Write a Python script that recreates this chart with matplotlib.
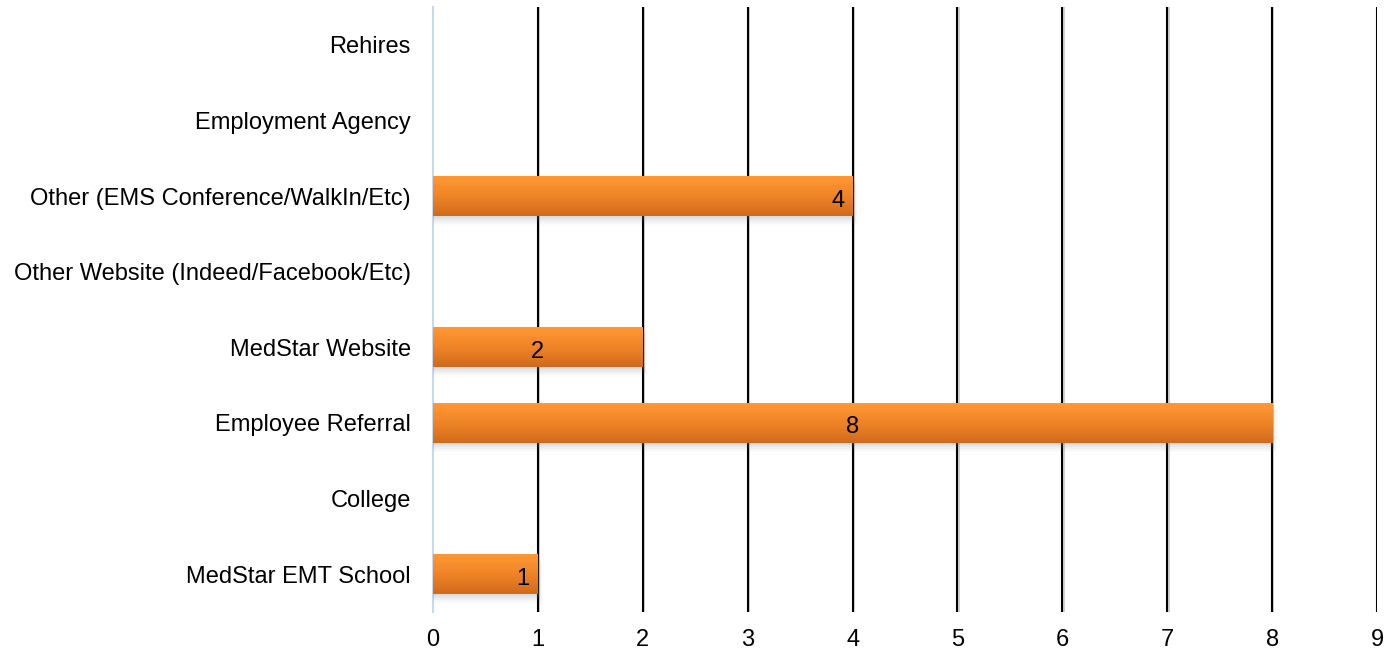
import numpy as np
import matplotlib.pyplot as plt
from matplotlib.colors import LinearSegmentedColormap
from matplotlib.patches import Rectangle

plt.rcParams['font.family'] = ['Liberation Sans', 'DejaVu Sans']

# hiring sources, bottom to top
sources = [
    "MedStar EMT School",
    "College",
    "Employee Referral",
    "MedStar Website",
    "Other Website (Indeed/Facebook/Etc)",
    "Other (EMS Conference/WalkIn/Etc)",
    "Employment Agency",
    "Rehires",
]
hires = [1, 0, 8, 2, 0, 4, 0, 0]
label_pos = ["end", None, "center", "center", None, "end", None, None]
x_ticks = list(range(0, 10))

fig = plt.figure(figsize=(13.96, 6.56), dpi=100)
ax = fig.add_axes([0.3102, 0.0671, 0.6762, 0.9222])

y = np.arange(len(sources))
bar_h = 0.53

ax.set_xlim(0, 9)
ax.set_ylim(-0.5, len(sources) - 0.5)

# vertical gridlines with a soft shadow
for t in x_ticks[1:]:
    ax.axvline(t + 0.012, color="#b0b0b0", lw=1.4, alpha=0.6, zorder=1)
    ax.axvline(t, color="black", lw=1.5, zorder=2)

orange = LinearSegmentedColormap.from_list("orng", ["#d06a1c", "#f08427", "#ff9a35"])
grad = np.linspace(0, 1, 64).reshape(-1, 1)

for yi, v, pos in zip(y, hires, label_pos):
    if v <= 0:
        continue
    # drop shadow under the bar
    for k, a in enumerate([0.10, 0.08, 0.06, 0.04, 0.02]):
        off = 0.025 * (k + 1)
        ax.add_patch(Rectangle((0, yi - bar_h / 2 - off), v + 0.01 * (k + 1), bar_h,
                               facecolor="#808080", alpha=a, lw=0, zorder=3))
    bar = ax.barh(yi, v, height=bar_h, color="none", lw=0, zorder=4)[0]
    im = ax.imshow(grad, cmap=orange, aspect="auto", origin="lower",
                   extent=(0, v, yi - bar_h / 2, yi + bar_h / 2), zorder=4)
    im.set_clip_path(bar)
    if pos == "end":
        ax.text(v - 0.08, yi - 0.06, str(v), ha="right", va="center", fontsize=17, zorder=5)
    else:
        ax.text(v / 2, yi - 0.06, str(v), ha="center", va="center", fontsize=17, zorder=5)

ax.set_xlim(0, 9)
ax.set_ylim(-0.5, len(sources) - 0.5)

ax.set_yticks(y)
ax.set_yticklabels(sources, fontsize=17)
ax.set_xticks(x_ticks)
ax.set_xticklabels([str(t) for t in x_ticks], fontsize=17)
ax.tick_params(axis="both", length=0)
ax.tick_params(axis="y", pad=16)
ax.tick_params(axis="x", pad=12)

for side in ["top", "right", "bottom"]:
    ax.spines[side].set_visible(False)
ax.spines["left"].set_color("#c6d9f0")
ax.spines["left"].set_linewidth(1.5)

fig.savefig("out.png", dpi=100)
